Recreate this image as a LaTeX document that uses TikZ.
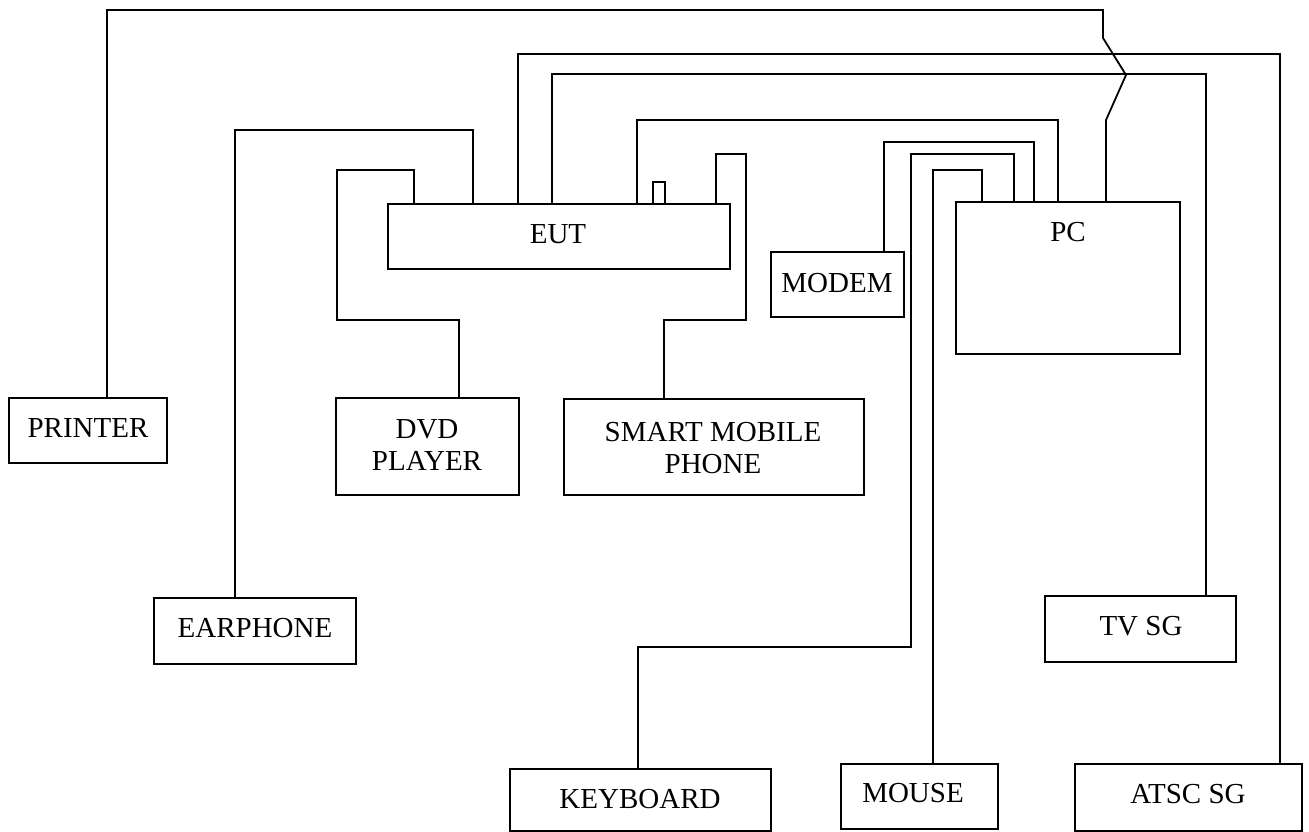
\documentclass[tikz,border=0pt]{standalone}
\usepackage{fontspec}
\setmainfont{Liberation Serif}
\begin{document}
\begin{tikzpicture}[x=1pt,y=-1pt,
  box/.style={draw,line width=1.8pt,anchor=north west,inner sep=0pt,outer sep=0pt},
  txt/.style={font=\fontsize{29}{32}\selectfont,inner sep=0pt,align=center},
  wire/.style={line width=1.8pt}]
\fill[white] (0,0) rectangle (1309,832);
\useasboundingbox (0,0) rectangle (1309,832);
% boxes
\node[box,minimum width=342pt,minimum height=65pt] (eut) at (388,204) {};
\node[box,line width=1.2pt,minimum width=12pt,minimum height=22pt] (tab) at (653,182) {};
\node[box,minimum width=224pt,minimum height=152pt] (pc) at (956,202) {};
\node[box,minimum width=133pt,minimum height=65pt] (modem) at (771,252) {};
\node[box,minimum width=158pt,minimum height=65pt] (printer) at (9,398) {};
\node[box,minimum width=183pt,minimum height=97pt] (dvd) at (336,398) {};
\node[box,minimum width=300pt,minimum height=96pt] (phone) at (564,399) {};
\node[box,minimum width=202pt,minimum height=66pt] (earph) at (154,598) {};
\node[box,minimum width=191pt,minimum height=66pt] (tvsg) at (1045,596) {};
\node[box,minimum width=261pt,minimum height=62pt] (kbd) at (510,769) {};
\node[box,minimum width=157pt,minimum height=65pt] (mouse) at (841,764) {};
\node[box,minimum width=227pt,minimum height=67pt] (atsc) at (1075,764) {};
% texts
\node[txt] (teut) at (558,234) {EUT};
\node[txt] (tpc) at (1068,232) {PC};
\node[txt] (tmodem) at (837,283) {MODEM};
\node[txt] (tprinter) at (88,428) {PRINTER};
\node[txt] (tdvd) at (427,445) {DVD\\PLAYER};
\node[txt] (tphone) at (713,448) {SMART MOBILE\\PHONE};
\node[txt] (tearph) at (255,628) {EARPHONE};
\node[txt] (ttvsg) at (1141,626) {TV SG};
\node[txt] (tkbd) at (640,799) {KEYBOARD};
\node[txt] (tmouse) at (913,793) {MOUSE};
\node[txt] (tatsc) at (1188,794) {ATSC SG};
% connectors
\draw[wire] ([xshift=85pt]eut.north west) |- (235,130) -- ([xshift=81pt]earph.north west);
\draw[wire] ([xshift=26pt]eut.north west) |- (337,170) |- (459,320) -- ([xshift=123pt]dvd.north west);
\draw[wire] ([xshift=130pt]eut.north west) |- (1280,54) -- ([xshift=205pt]atsc.north west);
\draw[wire] ([xshift=164pt]eut.north west) |- (1206,74) -- ([xshift=161pt]tvsg.north west);
\draw[wire] ([xshift=249pt]eut.north west) |- (1058,120) -- ([xshift=102pt]pc.north west);
\draw[wire] ([xshift=328pt]eut.north west) |- (746,154) |- (664,320) -- ([xshift=100pt]phone.north west);
\draw[wire] ([xshift=113pt]modem.north west) |- (1034,142) -- ([xshift=78pt]pc.north west);
\draw[wire] ([xshift=128pt]kbd.north west) |- (911,647) |- (1014,154) -- ([xshift=58pt]pc.north west);
\draw[wire] ([xshift=92pt]mouse.north west) |- (982,170) -- ([xshift=26pt]pc.north west);
\draw[wire] ([xshift=98pt]printer.north west) |- (1103,10) -- (1103,38) -- (1126,75) -- (1106,120) -- ([xshift=150pt]pc.north west);
\end{tikzpicture}
\end{document}
